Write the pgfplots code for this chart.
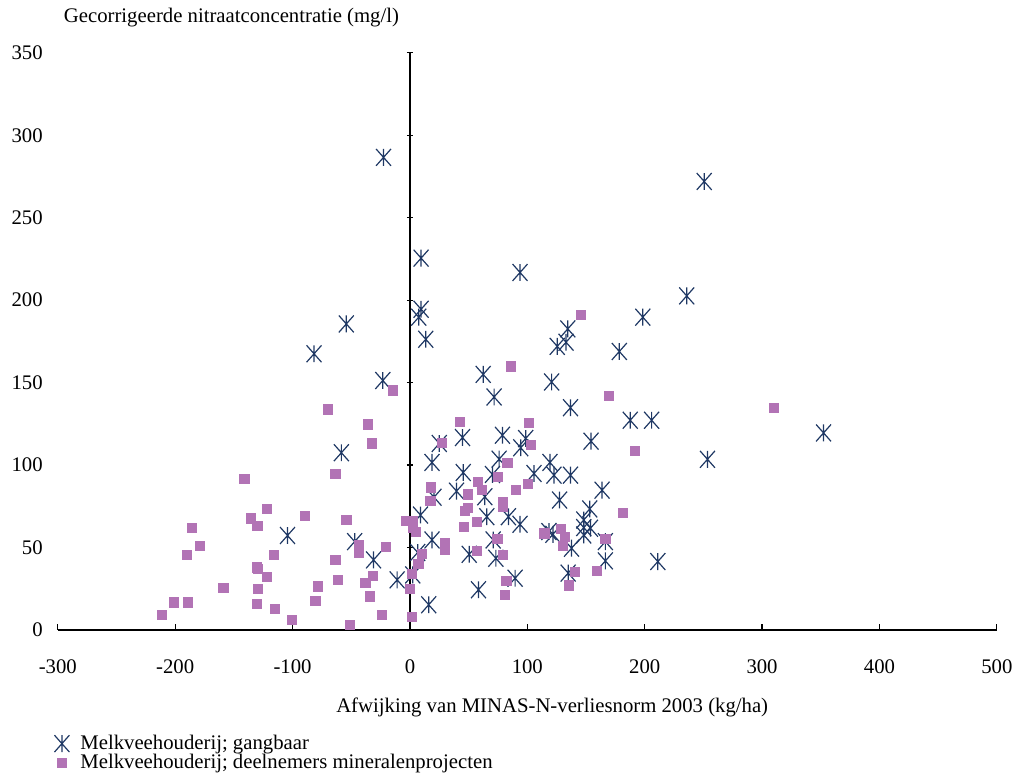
\documentclass[border=0pt]{standalone}
\usepackage{pgfplots}
\pgfplotsset{compat=1.18}
\usepackage{fontspec}
\setmainfont{Liberation Serif}
\definecolor{navyc}{RGB}{31,56,100}
\definecolor{orchidc}{RGB}{178,115,181}
\pgfdeclareplotmark{xast}{%
  \pgfpathmoveto{\pgfpoint{0pt}{1.13\pgfplotmarksize}}%
  \pgfpathlineto{\pgfpoint{0pt}{-1.13\pgfplotmarksize}}%
  \pgfpathmoveto{\pgfpoint{-\pgfplotmarksize}{1.13\pgfplotmarksize}}%
  \pgfpathlineto{\pgfpoint{\pgfplotmarksize}{-1.13\pgfplotmarksize}}%
  \pgfpathmoveto{\pgfpoint{-\pgfplotmarksize}{-1.13\pgfplotmarksize}}%
  \pgfpathlineto{\pgfpoint{\pgfplotmarksize}{1.13\pgfplotmarksize}}%
  \pgfusepathqstroke
}
\begin{document}
\begin{tikzpicture}[font=\fontsize{10.4}{12}\selectfont]
\path (0,0) rectangle (509.5pt,384pt);
\begin{axis}[
  at={(29pt,68pt)}, anchor=south west,
  scale only axis, width=471pt, height=289.5pt,
  xmin=-300, xmax=500, ymin=0, ymax=350,
  xtick={-300,-200,...,500}, ytick={0,50,...,350},
  axis x line=bottom, axis y line=center,
  hide obscured y ticks=false,
  axis line style={-, black, line width=0.6pt},
  xtick align=inside, ytick align=center,
  major tick length=3pt,
  tick style={black, line width=0.6pt},
  /pgf/number format/assume math mode=true,
  xticklabel style={anchor=north, yshift=-11.5pt},
  yticklabel style={anchor=east, inner sep=0pt, xshift=-182.5pt},
  xlabel={Afwijking van MINAS-N-verliesnorm 2003 (kg/ha)},
  xlabel style={at={(axis description cs:0.5265,-0.135)}, anchor=center},
  ylabel={Gecorrigeerde nitraatconcentratie (mg/l)},
  ylabel style={at={(axis description cs:-0.001,1.062)}, anchor=west, rotate=0},
  clip=false,
  legend style={at={(axis description cs:-0.004,-0.176)}, anchor=north west,
    draw=none, fill=none, row sep=-2pt, column sep=4pt, inner sep=0pt,
    nodes={inner sep=1.5pt}},
  legend cell align=left,
]
\addplot[only marks, mark=xast, mark size=3.75pt, navyc, line width=0.6pt] coordinates {
(-22.5,286.6) (250.7,272) (9.5,225.5) (93.8,216.8) (9.5,194.5) (7.5,189.7)
(13.5,176.3) (134.5,182.6) (133,174.5) (125.5,172) (198.4,189.7) (235.8,202.6)
(178.4,168.9) (136.8,134.8) (187.7,127.2) (205.9,127.2) (154.3,114.5) (352.4,119.5)
(253.5,103.5) (-54.2,185.6) (-81.7,167.5) (-23.1,151.3) (-58.4,107.5) (62.4,155)
(71.7,141.3) (120.7,150.4) (44.8,116.7) (78.8,118.1) (98.6,116.1) (25,113.1)
(94.4,110.5) (18.8,101.6) (45.4,95.5) (76,103.6) (39.7,84.2) (70.3,94.3)
(20.5,80.5) (105.7,94.9) (63.8,80.8) (65.5,68.7) (83.9,68.7) (93.8,64.1)
(9,69.7) (18.8,54.6) (50.5,45.9) (70.9,54.6) (73.2,43.5) (89.6,31.4)
(58.4,24.4) (16,15.3) (-104.3,57.3) (-47.1,53.6) (-31,42.5) (-10.9,30.4)
(2.4,33.4) (6.6,47) (119.3,101.6) (122.7,93.9) (136.8,93.9) (163.7,84.8)
(127.5,78.8) (153.2,73.4) (148.1,66.7) (118.4,59.7) (121.8,58) (148.1,62.1)
(153.8,61.7) (148.1,57.6) (166.5,53.6) (137.7,49.6) (166.5,41.9) (134.8,34.5)
(211.2,41.5)
};
\addlegendentry{Melkveehouderij; gangbaar}
\addplot[only marks, mark=square*, mark size=2.3pt, orchidc] coordinates {
(145.3,191.2) (169.4,141.9) (192,108.5) (310,134.8) (-14.6,145.3) (-69.8,133.8)
(-35.8,124.7) (-32.4,113.1) (85.9,159.8) (42.6,126.2) (101.4,125.6) (27,113.7)
(102.9,112) (83,101.4) (75.1,92.9) (18,86.5) (58.1,89.9) (61.3,84.8)
(90.1,84.8) (100.6,88.5) (49.7,82.2) (17.4,78.4) (79.4,77.4) (79.4,74.4)
(49.1,74.2) (46.8,72.1) (57,65.7) (45.7,62.7) (114.5,58.6) (30.1,52.6)
(30.1,48.5) (10.4,45.9) (74.5,55) (57,47.9) (79.4,45.5) (82.2,30)
(81.1,21.4) (-63.5,94.5) (-89.6,69.3) (-54.2,66.7) (-3.2,66.1) (2.4,66.1)
(2.4,62.1) (5.3,59.7) (-43.7,51.6) (-43.7,46.6) (-20.2,50.6) (-63.5,42.5)
(7.2,39.9) (1.5,34) (-61.3,30.4) (-31.6,32.8) (-38,28.4) (-78.3,26.4)
(-34.4,20.4) (-80.5,17.4) (0.2,24.8) (-23.6,9.3) (1.5,7.7) (-51.4,3.2)
(-141,91.5) (-121.6,73.2) (-135.7,67.7) (-130,63.3) (-185.8,61.7) (-178.7,51)
(-190,45.5) (-116.1,45.5) (-130.5,38) (-129.5,37) (-121.6,32.4) (-158.9,25.4)
(-129.7,24.8) (-200.8,16.7) (-189.5,16.7) (-130.6,15.7) (-115,12.7) (-211.2,9.3)
(-100.3,6.2) (128.4,61.3) (132,56.6) (130.3,51.2) (166.5,55.2) (140.5,35.1)
(159.4,35.9) (135.4,27) (181.3,71.2)
};
\addlegendentry{Melkveehouderij; deelnemers mineralenprojecten}
\end{axis}
\end{tikzpicture}
\end{document}
